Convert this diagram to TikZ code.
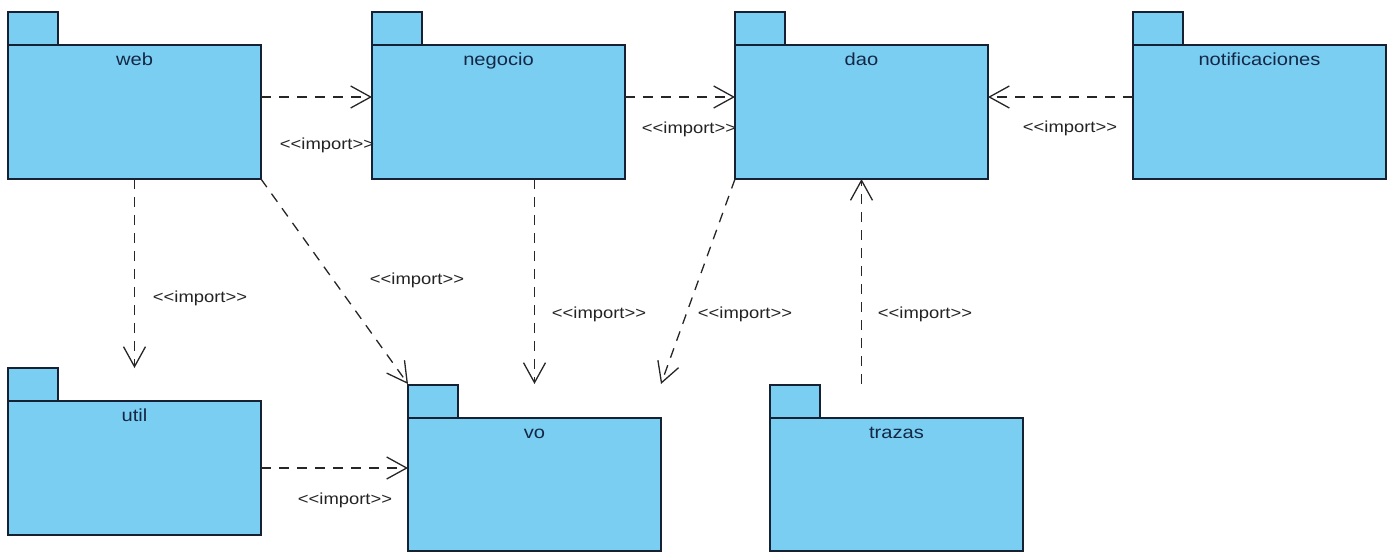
\documentclass[tikz,border=0pt]{standalone}
\usepackage{fontspec}
\setmainfont{Liberation Sans}[FakeStretch=1.15]
\usetikzlibrary{arrows.meta,calc}
\definecolor{pkgfill}{RGB}{122,206,242}
\definecolor{pkgline}{RGB}{22,34,52}
\definecolor{pkgtext}{RGB}{20,40,70}
\definecolor{deptext}{RGB}{35,35,35}
\newcommand{\stereo}[1]{<{}<#1>{}>}
\begin{document}
\begin{tikzpicture}[x=1pt,y=-1pt,
  pkgbody/.style={draw=pkgline, fill=pkgfill, line width=1.6pt,
    minimum width=253pt, minimum height=134pt, anchor=north west,
    inner sep=0pt, outer sep=0pt},
  pkgtab/.style={draw=pkgline, fill=pkgfill, line width=1.6pt},
  pkgname/.style={anchor=base, text=pkgtext, font=\fontsize{17.5}{20}\selectfont, inner sep=0pt},
  imp/.style={draw=black!85, line width=1.3pt, dash pattern=on 10pt off 8pt,
    -{Straight Barb[length=20pt, width=22pt, line width=1.3pt]}},
  lbl/.style={text=deptext, font=\fontsize{16}{18}\selectfont, inner sep=0pt}]
\useasboundingbox (0,0) rectangle (1391,552);

% package bodies
\node[pkgbody] (web)   at (8,45)    {};
\node[pkgbody] (neg)   at (372,45)  {};
\node[pkgbody] (dao)   at (735,45)  {};
\node[pkgbody] (notif) at (1133,45) {};
\node[pkgbody] (util)  at (8,401)   {};
\node[pkgbody, minimum height=133pt] (vo)     at (408,418) {};
\node[pkgbody, minimum height=133pt] (trazas) at (770,418) {};

% tabs on the upper left of each package
\foreach \p in {web,neg,dao,notif,util,vo,trazas}
  \draw[pkgtab] (\p.north west) rectangle ++(50,-33);

% package names
\node[pkgname] (webn)    at ($(web.north)+(0,20)$)    {web};
\node[pkgname] (negn)    at ($(neg.north)+(0,20)$)    {negocio};
\node[pkgname] (daon)    at ($(dao.north)+(0,20)$)    {dao};
\node[pkgname] (notifn)  at ($(notif.north)+(0,20)$)  {notificaciones};
\node[pkgname] (utiln)   at ($(util.north)+(0,20)$)   {util};
\node[pkgname] (von)     at ($(vo.north)+(0,20)$)     {vo};
\node[pkgname] (trazasn) at ($(trazas.north)+(0,20)$) {trazas};

% import dependencies
\draw[imp] ($(web.north east)+(0,52)$) -- ($(neg.north west)+(0,52)$);
\draw[imp] ($(neg.north east)+(0,52)$) -- ($(dao.north west)+(0,52)$);
\draw[imp] ($(notif.north west)+(0,52)$) -- ($(dao.north east)+(0,52)$);
\draw[imp] (web.south) -- ($(util.north)+(0,-33)$);
\draw[imp] (web.south east) -- ($(vo.north west)+(0,-34)$);
\draw[imp] (vo.north |- neg.south) -- ($(vo.north)+(0,-34)$);
\draw[imp] (dao.south west) -- ($(vo.north east)+(0,-34)$);
\draw[imp] ($(dao.south |- trazas.north)+(0,-34)$) -- (dao.south);
\draw[imp] ($(util.north east)+(0,67)$) -- ($(vo.north west)+(0,50)$);

% stereotype labels
\node[lbl] (l1) at (327,145)  {\stereo{import}};
\node[lbl] (l2) at (689,129)  {\stereo{import}};
\node[lbl] (l3) at (1070,128) {\stereo{import}};
\node[lbl] (l4) at (200,298)  {\stereo{import}};
\node[lbl] (l5) at (417,280)  {\stereo{import}};
\node[lbl] (l6) at (599,314)  {\stereo{import}};
\node[lbl] (l7) at (745,314)  {\stereo{import}};
\node[lbl] (l8) at (925,314)  {\stereo{import}};
\node[lbl] (l9) at (345,500)  {\stereo{import}};
\end{tikzpicture}
\end{document}
